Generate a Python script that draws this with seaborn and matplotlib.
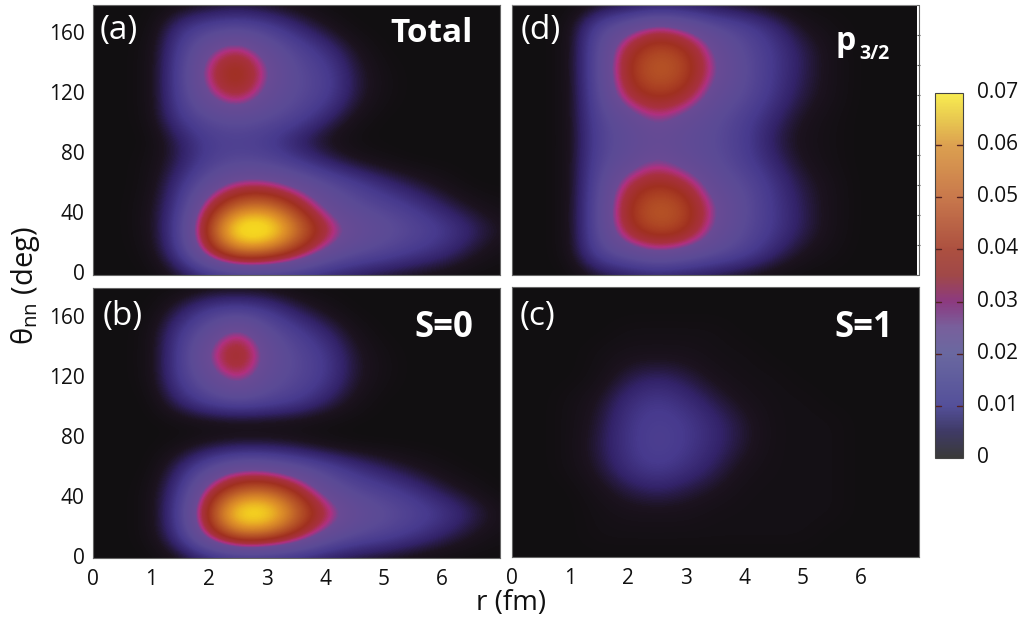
import numpy as np
import pandas as pd
import seaborn as sns
import matplotlib.pyplot as plt
from matplotlib.cm import ScalarMappable
from matplotlib.colors import LinearSegmentedColormap, Normalize
from matplotlib.lines import Line2D
from matplotlib.transforms import ScaledTranslation

# grid the densities were read on, values below are in units of 0.001
r_nodes = [0, 0.5, 1, 1.5, 2, 2.5, 3, 3.5, 4, 4.5, 5, 5.5, 6, 6.5, 7]
theta_nodes = [0, 15, 30, 45, 60, 75, 90, 105, 120, 135, 150, 165, 180]

total = [
    [0, 0, 0, 3, 8, 10, 10, 9, 7, 5, 3, 2, 1, 0, 0],
    [0, 0, 1, 12, 35, 50, 48, 38, 25, 19, 16, 12, 9, 4, 1],
    [0, 0, 2, 14, 44, 72, 72, 52, 36, 25, 21, 17, 13, 8, 3],
    [0, 0, 2, 12, 35, 50, 52, 40, 25, 19, 16, 12, 7, 3, 1],
    [0, 0, 1, 10, 22, 31, 31, 25, 19, 14, 9, 5, 2, 0, 0],
    [0, 0, 1, 6, 14, 17, 16, 12, 7, 3, 1, 0, 0, 0, 0],
    [0, 0, 0, 6, 13, 14, 12, 6, 2, 0, 0, 0, 0, 0, 0],
    [0, 0, 1, 12, 18, 20, 18, 15, 8, 2, 0, 0, 0, 0, 0],
    [0, 0, 1, 14, 28, 37, 24, 18, 14, 5, 1, 0, 0, 0, 0],
    [0, 0, 1, 14, 33, 44, 28, 18, 14, 5, 1, 0, 0, 0, 0],
    [0, 0, 1, 13, 27, 34, 23, 16, 10, 3, 0, 0, 0, 0, 0],
    [0, 0, 0, 10, 15, 17, 14, 8, 3, 0, 0, 0, 0, 0, 0],
    [0, 0, 0, 1, 2, 3, 2, 1, 0, 0, 0, 0, 0, 0, 0],
]
s0 = [
    [0, 0, 0, 2, 6, 8, 8, 7, 5, 3, 2, 1, 0, 0, 0],
    [0, 0, 1, 11, 34, 49, 47, 37, 24, 18, 15, 11, 7, 3, 1],
    [0, 0, 1, 13, 43, 70, 70, 50, 35, 24, 20, 16, 12, 7, 2],
    [0, 0, 1, 11, 33, 46, 48, 38, 23, 17, 14, 10, 5, 2, 0],
    [0, 0, 0, 7, 18, 26, 25, 20, 15, 10, 6, 3, 1, 0, 0],
    [0, 0, 0, 1, 3, 4, 4, 3, 1, 0, 0, 0, 0, 0, 0],
    [0, 0, 0, 0, 0, 0, 0, 0, 0, 0, 0, 0, 0, 0, 0],
    [0, 0, 0, 8, 15, 18, 16, 13, 7, 2, 0, 0, 0, 0, 0],
    [0, 0, 1, 13, 23, 33, 21, 17, 12, 4, 1, 0, 0, 0, 0],
    [0, 0, 1, 13, 29, 42, 24, 17, 12, 4, 1, 0, 0, 0, 0],
    [0, 0, 1, 12, 22, 33, 20, 14, 8, 2, 0, 0, 0, 0, 0],
    [0, 0, 0, 6, 13, 15, 12, 6, 2, 0, 0, 0, 0, 0, 0],
    [0, 0, 0, 0, 1, 1, 1, 0, 0, 0, 0, 0, 0, 0, 0],
]
s1 = [
    [0, 0, 0, 0, 0, 0, 0, 0, 0, 0, 0, 0, 0, 0, 0],
    [0, 0, 0, 1, 1, 1, 1, 1, 1, 1, 1, 0, 0, 0, 0],
    [0, 0, 0, 1, 2, 2, 2, 1, 1, 1, 1, 1, 0, 0, 0],
    [0, 0, 0, 2, 5, 7, 5, 3, 1, 1, 1, 1, 0, 0, 0],
    [0, 0, 1, 4, 10, 13, 10, 6, 2, 1, 1, 1, 0, 0, 0],
    [0, 0, 1, 5, 11, 15, 12, 8, 4, 1, 1, 1, 0, 0, 0],
    [0, 0, 1, 4, 11, 14, 12, 8, 4, 1, 1, 1, 0, 0, 0],
    [0, 0, 1, 3, 9, 12, 9, 5, 2, 1, 1, 0, 0, 0, 0],
    [0, 0, 0, 1, 5, 7, 5, 2, 1, 1, 0, 0, 0, 0, 0],
    [0, 0, 0, 1, 2, 2, 2, 1, 1, 0, 0, 0, 0, 0, 0],
    [0, 0, 0, 0, 1, 1, 1, 1, 0, 0, 0, 0, 0, 0, 0],
    [0, 0, 0, 0, 0, 0, 0, 0, 0, 0, 0, 0, 0, 0, 0],
    [0, 0, 0, 0, 0, 0, 0, 0, 0, 0, 0, 0, 0, 0, 0],
]
p32 = [
    [0, 0, 0, 3, 5, 6, 5, 4, 2, 1, 0, 0, 0, 0, 0],
    [0, 0, 1, 16, 22, 28, 24, 19, 15, 8, 3, 1, 0, 0, 0],
    [0, 0, 1, 18, 37, 44, 41, 26, 18, 12, 6, 2, 0, 0, 0],
    [0, 0, 1, 18, 39, 47, 43, 28, 19, 12, 6, 2, 0, 0, 0],
    [0, 0, 1, 17, 34, 40, 36, 22, 18, 11, 5, 2, 0, 0, 0],
    [0, 0, 1, 16, 22, 29, 23, 19, 14, 8, 3, 1, 0, 0, 0],
    [0, 0, 1, 15, 20, 24, 21, 18, 13, 6, 2, 1, 0, 0, 0],
    [0, 0, 1, 16, 22, 30, 24, 19, 14, 8, 3, 1, 0, 0, 0],
    [0, 0, 1, 17, 35, 41, 37, 23, 18, 11, 5, 2, 0, 0, 0],
    [0, 0, 1, 18, 39, 47, 43, 28, 19, 12, 6, 2, 0, 0, 0],
    [0, 0, 1, 18, 37, 44, 41, 26, 18, 12, 6, 2, 0, 0, 0],
    [0, 0, 1, 16, 24, 33, 27, 19, 15, 9, 3, 1, 0, 0, 0],
    [0, 0, 0, 2, 3, 4, 4, 3, 2, 1, 0, 0, 0, 0, 0],
]

r_ticks = [0, 1, 2, 3, 4, 5, 6]
theta_ticks = [0, 40, 80, 120, 160]
theta_minor = [20, 40, 60, 80, 100, 120, 140, 160]
cbar_ticks = [0, 0.01, 0.02, 0.03, 0.04, 0.05, 0.06, 0.07]
cbar_labels = ["0", "0.01", "0.02", "0.03", "0.04", "0.05", "0.06", "0.07"]

sns.set_theme(style="ticks")
plt.rcParams["font.family"] = ["Open Sans", "DejaVu Sans"]
plt.rcParams["mathtext.default"] = "regular"

W, H = 1024, 623
vmax = 0.07

panel_cmap = LinearSegmentedColormap.from_list("panel", [
    (0, "#110f11"), (3 / 70, "#1c1320"), (7 / 70, "#33236a"), (12 / 70, "#473a8e"),
    (18 / 70, "#5a4a96"), (27 / 70, "#6a4a94"), (30 / 70, "#b03080"), (33 / 70, "#a83040"),
    (38 / 70, "#a03020"), (46 / 70, "#bc5c28"), (55 / 70, "#e09428"), (62 / 70, "#f4d020"),
    (1, "#faf020"),
])
bar_cmap = LinearSegmentedColormap.from_list("bar", [
    (0, "#3a3a3a"), (5 / 70, "#3f3a66"), (10 / 70, "#54509a"), (20 / 70, "#6a68a0"),
    (25 / 70, "#78609c"), (30 / 70, "#8c3a80"), (35 / 70, "#a04848"), (40 / 70, "#ac5040"),
    (50 / 70, "#c8784c"), (60 / 70, "#dca050"), (65 / 70, "#e8c850"), (1, "#f8ec50"),
])


def box(x0, y0, x1, y1):
    return [x0 / W, 1 - y1 / H, (x1 - x0) / W, (y1 - y0) / H]


def r_pos(v):
    return np.asarray(v) / 0.5 + 0.5


def theta_pos(v):
    return np.asarray(v) / 15 + 0.5


def draw_panel(rect, values, left, bottom):
    ax = fig.add_axes(box(*rect))
    df = pd.DataFrame(np.array(values) / 1000, index=theta_nodes, columns=r_nodes)
    sns.heatmap(df, ax=ax, cmap=panel_cmap, vmin=0, vmax=vmax, cbar=False)
    # smooth rendering of the same cells, the original is a fine density map
    ax.imshow(df.values, cmap=panel_cmap, vmin=0, vmax=vmax, interpolation="bicubic",
              extent=(0, len(r_nodes), 0, len(theta_nodes)), origin="lower",
              aspect="auto", zorder=2)
    ax.set_xlim(r_pos(0), r_pos(7))
    ax.set_ylim(theta_pos(0), theta_pos(180))
    ax.set_xlabel("")
    ax.set_ylabel("")
    ax.set_xticks(r_pos(r_ticks))
    ax.set_yticks(theta_pos(theta_ticks))
    ax.set_xticklabels([str(t) if bottom else "" for t in r_ticks], rotation=0)
    ax.set_yticklabels([str(t) if left else "" for t in theta_ticks], rotation=0)
    ax.tick_params(axis="x", direction="in", length=4, width=0.7, color="#333333",
                   labelsize=15, pad=8, labelcolor="#111111")
    ax.tick_params(axis="y", length=0, labelsize=15, pad=6, labelcolor="#111111")
    for t in ax.get_xticklines() + ax.get_yticklines():
        t.set_zorder(5)
    for s in ax.spines.values():
        s.set_visible(True)
        s.set_color("#666666")
        s.set_linewidth(0.8)
    return ax


fig = plt.figure(figsize=(W / 100, H / 100), dpi=100, facecolor="white")

ax_a = draw_panel((93, 5, 500, 275), total, True, False)
ax_d = draw_panel((512, 5, 917, 275), p32, False, False)
ax_b = draw_panel((93, 288, 500, 558), s0, True, True)
ax_c = draw_panel((512, 287, 919, 557), s1, False, True)

# small ticks on the white strip at the right of (d)
ax_d.spines["right"].set_visible(False)
ax_d.spines["top"].set_color("#888888")
sec = ax_d.secondary_yaxis("right", functions=(lambda y: y, lambda y: y))
sec.set_yticks(theta_pos(theta_minor))
sec.set_yticklabels([])
sec.tick_params(direction="out", length=2, width=0.8, color="#555555")
sec.spines["right"].set_visible(False)
for xs, ys in [((919, 919), (5, 275)), ((917, 919), (5, 5)), ((917, 919), (275, 275))]:
    fig.add_artist(Line2D([x / W for x in xs], [1 - y / H for y in ys], color="#666666", lw=0.8))


def label(x, y, text, **kw):
    kw.setdefault("color", "white")
    kw.setdefault("va", "center")
    fig.text(x / W, 1 - y / H, text, zorder=10, **kw)


label(100, 30, "(a)", fontsize=24)
label(103, 316, "(b)", fontsize=24)
label(520, 316, "(c)", fontsize=24)
label(521, 30, "(d)", fontsize=24)
label(473, 34, "Total", fontsize=24, fontweight="bold", ha="right")
label(473, 328, "S=0", fontsize=25, fontweight="bold", ha="right")
label(893, 328, "S=1", fontsize=25, fontweight="bold", ha="right")
label(836, 41, "p", fontsize=23, fontweight="bold")
label(859, 54, "3/2", fontsize=14, fontweight="bold")

label(511, 603, "r (fm)", fontsize=20, color="#111111", ha="center")
label(25, 286, r"θ$_{nn}$ (deg)", fontsize=21, color="#111111", ha="center", rotation=90)

# colorbar
cax = fig.add_axes(box(935, 93, 963, 458))
cb = fig.colorbar(ScalarMappable(Normalize(0, vmax), bar_cmap), cax=cax, ticks=cbar_ticks)
cb.ax.set_yticklabels(cbar_labels)
cb.ax.tick_params(direction="in", length=0, labelsize=15, pad=10, labelcolor="#111111")
cb.outline.set_edgecolor("#444444")
cb.outline.set_linewidth(0.8)
up = ScaledTranslation(0, 3 / 100, fig.dpi_scale_trans)
for t in cb.ax.get_yticklabels():
    t.set_transform(t.get_transform() + up)
for v in cbar_ticks[1:-1]:
    cax.plot([0, 0.22], [v, v], color="#552222", lw=1, transform=cax.get_yaxis_transform())
    cax.plot([0.78, 1], [v, v], color="#552222", lw=1, transform=cax.get_yaxis_transform())

fig.savefig("out.png", dpi=100, facecolor="white")
